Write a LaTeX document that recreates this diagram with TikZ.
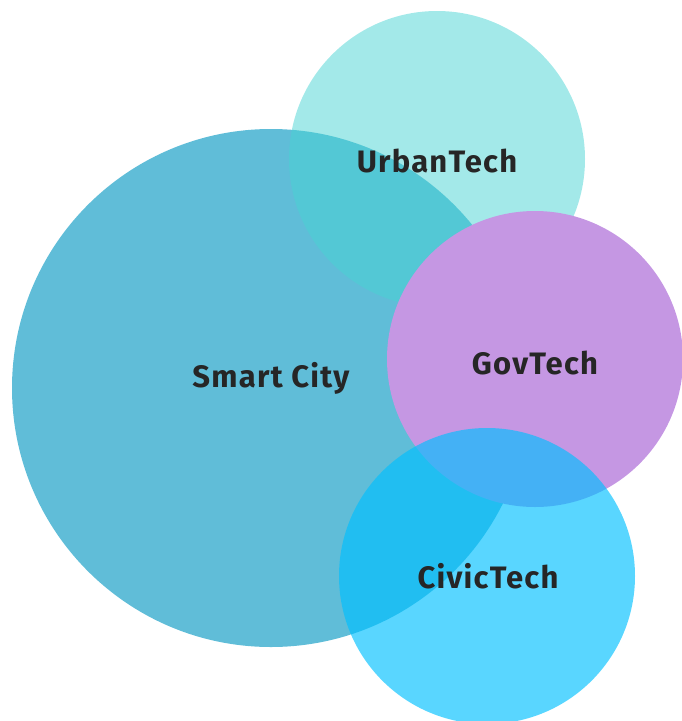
\documentclass[tikz,border=0pt]{standalone}
\usepackage{fontspec}
\setmainfont{Fira Sans}
\newfontfamily\lblfont[LetterSpace=4]{Fira Sans}
\definecolor{smartc}{RGB}{96,189,216}
\definecolor{urbanc}{RGB}{72,211,211}
\definecolor{govc}{RGB}{197,151,227}
\definecolor{civicc}{RGB}{0,192,255}
\tikzset{
  bubble/.style={circle, draw=none, inner sep=0pt},
  lbl/.style={font=\lblfont\fontsize{31}{36}\selectfont\bfseries, text=black!85}
}
\begin{document}
\begin{tikzpicture}[x=1pt,y=-1pt]
\useasboundingbox (0,0) rectangle (682,721);
\node[bubble, fill=smartc, minimum size=518pt] (smart) at (271,388) {};
\node[bubble, fill=urbanc, fill opacity=0.5, minimum size=296pt] (urban) at (437,159) {};
\node[bubble, fill=govc, minimum size=296pt] (gov) at (535,359) {};
\node[bubble, fill=civicc, fill opacity=0.65, minimum size=296pt] (civic) at (487,576) {};
\node[lbl] (tsmart) at (271,378) {Smart City};
\node[lbl] (turban) at (437,161) {UrbanTech};
\node[lbl] (tgov) at (535,363) {GovTech};
\node[lbl] (tcivic) at (488,576) {CivicTech};
\end{tikzpicture}
\end{document}
